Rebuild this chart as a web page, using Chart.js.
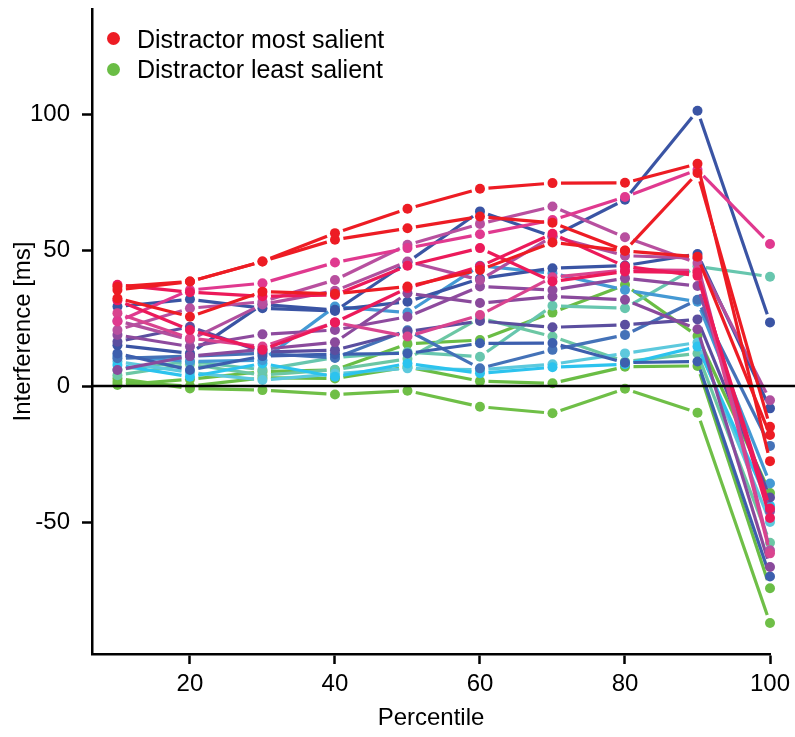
<!DOCTYPE html>
<html><head><meta charset="utf-8">
<script src="https://cdn.jsdelivr.net/npm/chart.js@4"></script>
<style>
html,body{margin:0;padding:0;background:#fff;}
#wrap{position:relative;width:795px;height:737px;}
canvas{display:block;}
.dot{position:absolute;width:13px;height:13px;border-radius:50%;}
.lt{position:absolute;font:25px "Liberation Sans",Arial,sans-serif;line-height:28px;color:#000;white-space:nowrap;}
</style>
</head><body>
<div id="wrap">
<canvas id="c" width="795" height="737"></canvas>
<div class="dot" style="left:107px;top:32px;background:#ED1C24"></div>
<div class="lt" style="left:137px;top:25px">Distractor most salient</div>
<div class="dot" style="left:107px;top:63px;background:#6ABD45"></div>
<div class="lt" style="left:137px;top:55px">Distractor least salient</div>
</div>
<script>
const percentiles = [10, 20, 30, 40, 50, 60, 70, 80, 90, 100];
const xTicks = [20, 40, 60, 80, 100];
const yTicks = [-50, 0, 50, 100];

const s01 = [36.5, 38.4, 45.8, 56.2, 65.2, 72.5, 74.6, 74.7, 81.7, -27.6];
const s02 = [35.3, 38.4, 45.8, 53.8, 58.0, 62.3, 60.0, 49.8, 78.3, -15.0];
const s03 = [32.3, 25.5, 34.7, 33.9, 36.6, 42.7, 52.8, 49.7, 47.5, -18.0];
const s04 = [37.2, 34.5, 33.0, 33.5, 44.2, 50.7, 38.4, 42.1, 41.7, -48.5];
const s05 = [31.5, 20.6, 13.3, 23.4, 36.0, 44.0, 56.0, 44.0, 40.5, -45.0];
const s06 = [23.7, 35.3, 37.8, 45.4, 50.7, 55.8, 61.0, 69.5, 79.5, 52.2];
const s07 = [26.8, 17.6, 14.5, 23.4, 18.2, 26.1, 40.0, 42.7, 42.5, -61.5];
const s08 = [20.6, 28.6, 31.0, 39.0, 51.9, 59.6, 66.0, 54.7, 45.2, -60.4];
const s09 = [24.0, 17.0, 30.0, 35.0, 45.8, 39.0, 55.0, 47.9, 47.0, -5.2];
const s10 = [18.8, 14.5, 19.0, 20.6, 25.5, 36.6, 35.3, 39.6, 36.8, -46.0];
const s11 = [5.9, 11.0, 13.5, 16.1, 34.1, 30.5, 32.9, 31.7, 20.9, -66.5];
const s12 = [16.3, 21.8, 12.5, 13.2, 20.0, 23.9, 21.6, 22.5, 24.5, -41.0];
const s13 = [29.2, 31.9, 28.6, 27.6, 45.5, 64.2, 55.0, 68.5, 101.2, 23.4];
const s14 = [15.0, 12.0, 30.0, 28.0, 31.0, 39.5, 43.3, 44.3, 48.5, -8.2];
const s15 = [12.0, 5.9, 11.0, 11.7, 12.0, 15.7, 15.8, 8.6, 9.0, -70.0];
const s16 = [10.2, 11.0, 12.0, 10.3, 20.5, 6.5, 13.3, 18.8, 31.7, -22.0];
const s17 = [11.0, 9.0, 9.5, 29.2, 27.0, 44.2, 41.5, 35.3, 31.0, -35.8];
const s18 = [7.7, 3.4, 8.3, 3.4, 8.3, 4.7, 6.9, 8.0, 14.5, -44.0];
const s19 = [9.0, 5.0, 2.2, 4.5, 6.5, 6.0, 8.0, 12.0, 16.0, -50.0];
const s20 = [6.0, 9.0, 6.0, 10.5, 12.5, 10.8, 29.5, 28.6, 44.0, 40.2];
const s21 = [4.0, 8.0, 4.0, 6.0, 10.0, 25.0, 18.2, 9.0, 12.0, -57.6];
const s22 = [0.4, 2.5, 5.3, 5.9, 15.5, 16.9, 27.0, 37.2, 18.4, -39.3];
const s23 = [1.5, 0.0, 3.0, 2.8, 7.0, 1.8, 1.0, 7.1, 7.4, -74.3];
const s24 = [2.8, -0.9, -1.5, -3.1, -1.7, -7.6, -10.0, -1.0, -9.8, -87.1];

const seriesList = [s01, s02, s03, s04, s05, s06, s07, s08, s09, s10, s11, s12,
                    s13, s14, s15, s16, s17, s18, s19, s20, s21, s22, s23, s24];
const seriesColors = ['#ED1C24', '#ED1C24', '#ED1C24', '#EC1A5A', '#EC1A5A', '#E0398F',
                      '#D9448F', '#B8509F', '#B04F9E', '#8E4B9E', '#8A4A9C', '#5B4E9F',
                      '#3A54A4', '#3A54A4', '#3D5FAE', '#4472B8', '#4499D4', '#2CC3EE',
                      '#5DC9DD', '#67C6AE', '#6CC7A4', '#6ABD45', '#6ABD45', '#6FBF47'];
const zeroLine = [0, 0];
const zeroLineX = [6.49, 103.5];

const FONT = '"Liberation Sans", Arial, sans-serif';
const LINE_W = 3.2;
const GAP = 8.5;

// draws each series' connecting segments (type "b" style, with gaps at the points)
// from the point positions computed by Chart.js scales
const gapLines = {
  id: 'gapLines',
  beforeDatasetDraw(chart, args) {
    const ds = chart.data.datasets[args.index];
    if (!ds.gapLine) return;
    const pts = args.meta.data;
    const ctx = chart.ctx;
    ctx.save();
    ctx.strokeStyle = ds.borderColor;
    ctx.lineWidth = LINE_W;
    ctx.lineCap = 'butt';
    for (let i = 0; i < pts.length - 1; i++) {
      const a = pts[i], b = pts[i + 1];
      const dx = b.x - a.x, dy = b.y - a.y, L = Math.hypot(dx, dy);
      if (L <= 2 * GAP) continue;
      const ux = dx / L, uy = dy / L;
      ctx.beginPath();
      ctx.moveTo(a.x + ux * GAP, a.y + uy * GAP);
      ctx.lineTo(b.x - ux * GAP, b.y - uy * GAP);
      ctx.stroke();
    }
    ctx.restore();
  }
};

const datasets = [{
  data: zeroLineX.map((x, i) => ({x: x, y: zeroLine[i]})),
  borderColor: '#000', borderWidth: 2.5, pointRadius: 0, clip: false, tension: 0
}];
seriesList.forEach((s, k) => {
  datasets.push({
    data: s.map((v, i) => ({x: percentiles[i], y: v})),
    borderColor: seriesColors[k],
    backgroundColor: seriesColors[k],
    showLine: false,
    gapLine: true,
    pointRadius: 5,
    pointBorderWidth: 0,
    pointHoverRadius: 5,
    clip: false
  });
});

new Chart(document.getElementById('c'), {
  type: 'line',
  data: {datasets},
  plugins: [gapLines],
  options: {
    responsive: false,
    animation: false,
    events: [],
    layout: {padding: {top: 9, right: 25, left: 0, bottom: 0}},
    plugins: {legend: {display: false}, tooltip: {enabled: false}},
    scales: {
      x: {
        type: 'linear', min: 6.49, max: 100,
        afterBuildTicks: s => { s.ticks = xTicks.map(v => ({value: v})); },
        afterFit: s => { s.height = 83; s.paddingLeft = 0; s.paddingRight = 0; },
        grid: {display: true, drawOnChartArea: false, drawTicks: true, tickLength: 10,
               tickWidth: 2.5, tickColor: '#000', color: '#000'},
        border: {display: true, color: '#000', width: 2.5},
        ticks: {font: {family: FONT, size: 24}, color: '#000', padding: 6, maxRotation: 0},
        title: {display: true, text: 'Percentile', font: {family: FONT, size: 24}, color: '#000',
                padding: {top: 0, bottom: 4}}
      },
      y: {
        type: 'linear', min: -98.5, max: 138.6,
        afterBuildTicks: s => { s.ticks = yTicks.map(v => ({value: v})); },
        afterFit: s => { s.width = 92; s.paddingTop = 0; s.paddingBottom = 0; },
        grid: {display: true, drawOnChartArea: false, drawTicks: true, tickLength: 10,
               tickWidth: 2.5, tickColor: '#000', color: '#000'},
        border: {display: true, color: '#000', width: 2.5},
        ticks: {font: {family: FONT, size: 24}, color: '#000', padding: 12},
        title: {display: true, text: 'Interference [ms]', font: {family: FONT, size: 24}, color: '#000',
                padding: {top: 9, bottom: 0}}
      }
    }
  }
});
</script>
</body></html>
